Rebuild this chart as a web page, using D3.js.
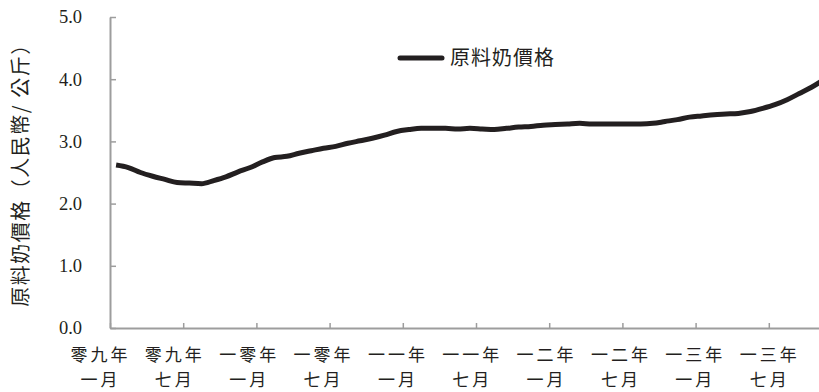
<!DOCTYPE html>
<html>
<head>
<meta charset="utf-8">
<script src="https://cdn.jsdelivr.net/npm/d3@7"></script>
<style>
  body { margin: 0; background: #fff; }
  svg { display: block; }
  .cjk { font-family: "Noto Sans CJK TC", "Noto Sans CJK SC", sans-serif; fill: #231f20; }
  .num { font-family: "Liberation Serif", "DejaVu Serif", serif; fill: #231f20; }
</style>
</head>
<body>
<svg id="svg" width="819" height="392"></svg>
<script>
// 月份：2009年1月起，共59个月
const months = [];
for (let yr = 2009; yr <= 2013; yr++) for (let m = 1; m <= 12; m++) months.push(yr + '-' + m);
months.length = 59;

// 原料奶价格（人民币/公斤），按月读图估计
const price = [
  2.62, 2.58, 2.50, 2.44, 2.39, 2.34, 2.33, 2.32, 2.37, 2.43, 2.51, 2.58,
  2.67, 2.74, 2.76, 2.81, 2.85, 2.89, 2.92, 2.97, 3.01, 3.05, 3.10, 3.16,
  3.19, 3.21, 3.21, 3.21, 3.20, 3.21, 3.20, 3.19, 3.21, 3.23, 3.24, 3.26,
  3.27, 3.28, 3.29, 3.28, 3.28, 3.28, 3.28, 3.28, 3.29, 3.32, 3.35, 3.39,
  3.41, 3.43, 3.44, 3.45, 3.48, 3.53, 3.59, 3.67, 3.77, 3.87, 3.99
];

// x 轴标签（每6个月一个）
const tickIdx = [0, 6, 12, 18, 24, 30, 36, 42, 48, 54];
const tickTop = ['零九年', '零九年', '一零年', '一零年', '一一年', '一一年', '一二年', '一二年', '一三年', '一三年'];
const tickBottom = ['一月', '七月', '一月', '七月', '一月', '七月', '一月', '七月', '一月', '七月'];
const yTicks = [0, 1, 2, 3, 4, 5];

const seriesName = '原料奶價格';
const yTitle = '原料奶價格（人民幣/ 公斤）';

const svg = d3.select('#svg');
const mLeft = 110, mTop = 17, mBottom = 328;
const step = 12.2;

const x = d3.scaleLinear().domain([0, months.length]).range([mLeft, mLeft + months.length * step]);
const y = d3.scaleLinear().domain([0, 5]).range([mBottom, mTop]);

// y 轴
const gy = svg.append('g')
  .attr('transform', `translate(${mLeft},0)`)
  .call(d3.axisLeft(y).tickValues(yTicks).tickFormat(d3.format('.1f'))
    .tickSizeInner(-6).tickSizeOuter(0).tickPadding(28));
gy.select('.domain').attr('stroke', '#9d9d9d').attr('stroke-width', 2);
gy.selectAll('.tick line').attr('stroke', '#9d9d9d').attr('stroke-width', 1.5);
gy.selectAll('.tick text').attr('class', 'num').attr('font-size', 18.5);

// x 轴（两行标签，分开写）
const gx = svg.append('g')
  .attr('transform', `translate(0,${mBottom})`)
  .call(d3.axisBottom(x).tickValues(tickIdx).tickSizeInner(-5).tickSizeOuter(0).tickFormat(''));
gx.select('.domain').attr('stroke', '#9d9d9d').attr('stroke-width', 2);
gx.selectAll('.tick line').attr('stroke', '#9d9d9d').attr('stroke-width', 1.5);
gx.selectAll('.tick').each(function(d, i) {
  const dx = -10 + i * 1.15;
  const g = d3.select(this);
  g.append('text')
    .attr('class', 'cjk').attr('font-size', 17).attr('letter-spacing', 3)
    .attr('text-anchor', 'middle').attr('x', dx).attr('y', 33)
    .text(tickTop[i]);
  g.append('text')
    .attr('class', 'cjk').attr('font-size', 17).attr('letter-spacing', 3)
    .attr('text-anchor', 'middle').attr('x', dx).attr('y', 58)
    .text(tickBottom[i]);
});

// 折线
const line = d3.line()
  .x((d, i) => x(i + 0.5))
  .y(d => y(d))
  .curve(d3.curveMonotoneX);
svg.append('path')
  .datum(price)
  .attr('d', line)
  .attr('fill', 'none')
  .attr('stroke', '#231f20')
  .attr('stroke-width', 5)
  .attr('stroke-linejoin', 'round');

// 图例
svg.append('line')
  .attr('x1', 400).attr('x2', 442).attr('y1', 58).attr('y2', 58)
  .attr('stroke', '#231f20').attr('stroke-width', 5).attr('stroke-linecap', 'round');
svg.append('text')
  .attr('class', 'cjk').attr('font-size', 20).attr('letter-spacing', 1)
  .attr('x', 450).attr('y', 65)
  .text(seriesName);

// y 轴标题
svg.append('text')
  .attr('class', 'cjk').attr('font-size', 20).attr('letter-spacing', 1.5)
  .attr('text-anchor', 'middle')
  .attr('transform', 'translate(28,170) rotate(-90)')
  .text(yTitle);
</script>
</body>
</html>
